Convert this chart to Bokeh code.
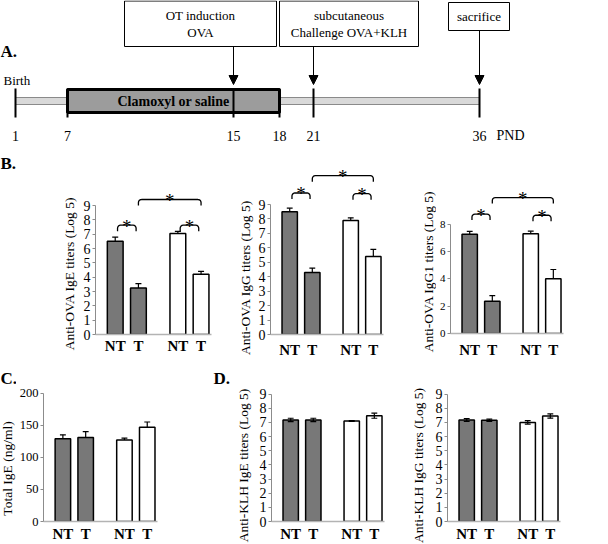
import math
from bokeh.plotting import figure
from bokeh.layouts import column, row
from bokeh.models import Range1d, FixedTicker, Arrow, NormalHead
from bokeh.core.properties import value
from bokeh.embed import file_html
from bokeh.resources import INLINE

FONT = "Liberation Serif"

# ---------------- data ----------------
# Panel A: protocol timeline (post-natal days)
days = [1, 7, 15, 18, 21, 36]
treatment_label = "Clamoxyl or saline"
treatment_span = (7, 18)
event_days = [15, 21, 36]
event_lines = [["OT induction", "OVA"], ["subcutaneous", "Challenge OVA+KLH"], ["sacrifice"]]

# Panels B-D: bar values (mean, error)
categories = ["NT", "T", "NT", "T"]
bar_group = [0, 0, 1, 1]

ova_ige = [6.5, 3.25, 7.05, 4.2]
ova_ige_err = [0.3, 0.3, 0.15, 0.2]
ova_igg = [8.5, 4.3, 7.9, 5.4]
ova_igg_err = [0.25, 0.3, 0.18, 0.5]
ova_igg1 = [7.25, 2.35, 7.3, 4.0]
ova_igg1_err = [0.22, 0.42, 0.18, 0.68]
total_ige = [129, 131, 127, 147]
total_ige_err = [6, 9, 3, 8]
klh_ige = [7.17, 7.17, 7.1, 7.47]
klh_ige_err = [0.12, 0.12, 0.03, 0.18]
klh_igg = [7.17, 7.15, 7.0, 7.45]
klh_igg_err = [0.1, 0.08, 0.12, 0.15]

# ---------------- styles / layout ----------------
GROUP_FILL = ["#787878", "#ffffff"]
FRAME_W = 116
X_RANGE = (-0.85, 4.15)
BAR_W = 0.68
GROUP_GAP = 0.7
xs = [i + GROUP_GAP * g for i, g in enumerate(bar_group)]

# timeline drawing positions (timeline is drawn not to scale)
day_pos = [15, 67, 233, 279, 313, 479]
pos = dict(zip(days, day_pos))


def text(p, x, y, t, size, bold=False, align="center", baseline="middle", **kw):
    p.text(x=x, y=y, text=t, text_font=value(FONT), text_font_size=size,
           text_font_style="bold" if bold else "normal", text_align=align,
           text_baseline=baseline, text_color="black", **kw)


def blank(width, height, flip=False):
    yr = Range1d(height, 0) if flip else Range1d(0, height)
    p = figure(width=width, height=height, x_range=Range1d(0, width), y_range=yr,
               x_axis_type=None, y_axis_type=None, toolbar_location=None,
               output_backend="svg", min_border=0, frame_align=False)
    p.outline_line_color = None
    p.grid.visible = False
    return p


# ---------------- Panel A ----------------
tl = blank(608, 148, flip=True)
tl.quad(left=[pos[days[0]]], right=[pos[days[-1]]], top=[97], bottom=[104],
        fill_color="#d9d9d9", line_color="#8a8a8a", line_width=1)
tl.quad(left=[pos[treatment_span[0]]], right=[pos[treatment_span[1]]], top=[89], bottom=[112],
        fill_color="#9c9c9c", line_color="black", line_width=3)
text(tl, [(pos[treatment_span[0]] + pos[treatment_span[1]]) / 2], [101], [treatment_label], "14px", bold=True)
tl.segment(x0=day_pos, x1=day_pos, y0=88, y1=117, line_color="black", line_width=2)
text(tl, day_pos, 135, [str(d) for d in days], "14px")
text(tl, [pos[days[-1]] + 17], [135], ["PND"], "14px", align="left")
text(tl, [3], [80], ["Birth"], "13px", align="left")
text(tl, [0], [51], ["A."], "17px", bold=True, align="left")

event_box = [(124, 276, 0.5, 46), (279, 418, 0.5, 46), (448, 509, 2, 30)]
for d, lines, (bl, br, bt, bb) in zip(event_days, event_lines, event_box):
    tl.quad(left=[bl], right=[br], top=[bt], bottom=[bb], fill_color="white",
            line_color="black", line_width=1)
    cy = (bt + bb) / 2
    n = len(lines)
    for k, ln in enumerate(lines):
        text(tl, [(bl + br) / 2], [cy + (k - (n - 1) / 2) * 17], [ln], "13px")
    tl.add_layout(Arrow(end=NormalHead(size=9, fill_color="black", line_color="black"),
                        x_start=pos[d], y_start=bb, x_end=pos[d], y_end=84,
                        line_color="black", line_width=1))


# ---------------- side strips: axis titles and panel letters ----------------
def side(width, height, title, tx, ty, letter=None):
    p = blank(width, height)
    text(p, [tx], [height - ty], [title], "13.5px", angle=math.pi / 2)
    if letter is not None:
        t, lx, ly = letter
        text(p, [lx], [height - ly], [t], "17px", bold=True, align="left")
    return p


# ---------------- bar panels ----------------
def bracket_path(xa, xb, top, leg, rx, ry):
    px, py = [xa], [top - leg]
    for k in range(5):
        a = math.pi - k * math.pi / 8
        px.append(xa + rx + rx * math.cos(a)); py.append(top - ry + ry * math.sin(a))
    for k in range(5):
        a = math.pi / 2 - k * math.pi / 8
        px.append(xb - rx + rx * math.cos(a)); py.append(top - ry + ry * math.sin(a))
    px.append(xb); py.append(top - leg)
    return px, py


def bar_panel(vals, errs, ticks, axis_top, y_top, width, height, b_left, b_bottom,
              tick_size, two_sided=False, brackets=(), lab_standoff=3):
    p = figure(width=width, height=height, x_range=Range1d(*X_RANGE), y_range=Range1d(0, y_top),
               toolbar_location=None, output_backend="svg", frame_align=False,
               min_border_left=b_left, min_border_right=width - b_left - FRAME_W,
               min_border_top=0, min_border_bottom=b_bottom)
    p.outline_line_color = None
    p.grid.visible = False

    upx = FRAME_W / (X_RANGE[1] - X_RANGE[0])
    upy = (height - b_bottom) / y_top

    hi = [v + e for v, e in zip(vals, errs)]
    lo = [v - e for v, e in zip(vals, errs)] if two_sided else list(vals)
    p.vbar(x=xs, top=vals, bottom=0, width=BAR_W,
           fill_color=[GROUP_FILL[g] for g in bar_group], line_color="black", line_width=1.5)
    p.segment(x0=xs, x1=xs, y0=lo, y1=hi, line_color="black", line_width=1.2)
    cap = 3 / upx
    p.segment(x0=[x - cap for x in xs], x1=[x + cap for x in xs], y0=hi, y1=hi,
              line_color="black", line_width=1.2)
    if two_sided:
        p.segment(x0=[x - cap for x in xs], x1=[x + cap for x in xs], y0=lo, y1=lo,
                  line_color="black", line_width=1.2)

    bx, by, sx, sy = [], [], [], []
    for i, j, top, inset in brackets:
        xa, xb = xs[i] + inset, xs[j] - inset
        px, py = bracket_path(xa, xb, top, 6 / upy, 3 / upx, 3 / upy)
        bx.append(px); by.append(py)
        sx.append((xa + xb) / 2); sy.append(top)
    if brackets:
        p.multi_line(xs=bx, ys=by, line_color="black", line_width=1.3)
        text(p, sx, sy, ["*"] * len(sx), "19px", baseline="alphabetic", y_offset=1)

    ya = p.yaxis[0]
    ya.bounds = (0, axis_top)
    ya.ticker = FixedTicker(ticks=ticks)
    ya.axis_line_color = "#8c8c8c"
    ya.major_tick_line_color = "#8c8c8c"
    ya.major_tick_in = 0
    ya.major_tick_out = 3
    ya.minor_tick_line_color = None
    ya.minor_tick_out = 0
    ya.major_label_text_font = FONT
    ya.major_label_text_font_size = tick_size
    ya.major_label_text_color = "black"
    ya.major_label_standoff = 2
    ya.axis_label = None
    ya.axis_label_standoff = 0

    xa_ = p.xaxis[0]
    xa_.ticker = FixedTicker(ticks=xs)
    xa_.major_label_overrides = {x: c for x, c in zip(xs, categories)}
    xa_.major_tick_line_color = None
    xa_.major_tick_in = 0
    xa_.major_tick_out = 0
    xa_.minor_tick_line_color = None
    xa_.minor_tick_in = 0
    xa_.minor_tick_out = 0
    xa_.axis_label = None
    xa_.axis_label_standoff = 0
    xa_.axis_line_color = "#b3b3b3"
    xa_.axis_line_width = 1.5
    xa_.major_label_text_font = FONT
    xa_.major_label_text_font_style = "bold"
    xa_.major_label_text_font_size = "15px"
    xa_.major_label_text_color = "black"
    xa_.major_label_standoff = lab_standoff
    return p


B_H, B_BOT = 212, 26
CD_H, CD_BOT = 184, 21
ticks9 = list(range(0, 10))

s_b1 = side(80, B_H, "Anti-OVA IgE titers (Log 5)", 68.5, 125, letter=("B.", 0, 15))
b1 = bar_panel(ova_ige, ova_ige_err, ticks9, 9, 12.98, 145, B_H, 15, B_BOT, "14px",
               brackets=[(0, 1, 7.63, 0.1), (2, 3, 7.63, 0.1), (1, 3, 9.42, 0.0)], lab_standoff=3)
s_b2 = side(30, B_H, "Anti-OVA IgG titers (Log 5)", 20, 129)
b2 = bar_panel(ova_igg, ova_igg_err, ticks9, 9, 12.88, 155, B_H, 12, B_BOT, "14px",
               brackets=[(0, 1, 9.8, 0.1), (2, 3, 9.75, 0.1), (1, 3, 11.0, 0.0)], lab_standoff=7)
s_b3 = side(26, B_H, "Anti-OVA IgG1 titers (Log 5)", 18, 123)
b3 = bar_panel(ova_igg1, ova_igg1_err, [0, 2, 4, 6, 8], 8, 13.53, 172, B_H, 11, B_BOT, "11px",
               brackets=[(0, 1, 8.73, 0.1), (2, 3, 8.65, 0.1), (1, 3, 9.94, 0.0)], lab_standoff=8)

s_c = side(16, CD_H, "Total IgE (ng/ml)", 7, 108, letter=("C.", 0, 18))
c1 = bar_panel(total_ige, total_ige_err, [0, 50, 100, 150, 200], 200, 250.8,
               194, CD_H, 25, CD_BOT, "12.5px", lab_standoff=4)
s_d1 = side(46, CD_H, "Anti-KLH IgE titers (Log 5)", 33, 105, letter=("D.", 3, 18))
d1 = bar_panel(klh_ige, klh_ige_err, ticks9, 9, 11.37, 154, CD_H, 12, CD_BOT, "14px",
               two_sided=True, lab_standoff=4)
s_d2 = side(22, CD_H, "Anti-KLH IgG titers (Log 5)", 8, 105)
d2 = bar_panel(klh_igg, klh_igg_err, ticks9, 9, 11.37, 176, CD_H, 12, CD_BOT, "14px",
               two_sided=True, lab_standoff=4)

layout = column(tl,
                row(s_b1, b1, s_b2, b2, s_b3, b3, spacing=0),
                row(s_c, c1, s_d1, d1, s_d2, d2, spacing=0),
                spacing=0)

open("out.html", "w").write(file_html(layout, INLINE))
